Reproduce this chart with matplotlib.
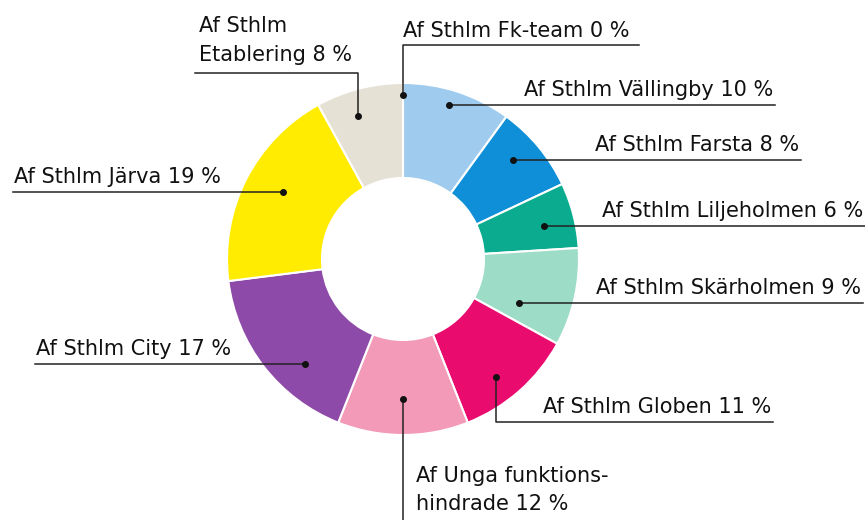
import numpy as np
from matplotlib import pyplot as plt

# data
offices = ["Af Sthlm Fk-team", "Af Sthlm Vällingby", "Af Sthlm Farsta",
           "Af Sthlm Liljeholmen", "Af Sthlm Skärholmen", "Af Sthlm Globen",
           "Af Unga funktionshindrade", "Af Sthlm City", "Af Sthlm Järva",
           "Af Sthlm Etablering"]
shares = [0, 10, 8, 6, 9, 11, 12, 17, 19, 8]
colors = ["#9ecbee", "#9ecbee", "#0f8fd8", "#0aab8f", "#9ddcc7",
          "#e90b6e", "#f49ab9", "#8e4aa8", "#ffec00", "#e5e1d5"]
label_lines = [["Af Sthlm Fk-team 0 %"], ["Af Sthlm Vällingby 10 %"],
               ["Af Sthlm Farsta 8 %"], ["Af Sthlm Liljeholmen 6 %"],
               ["Af Sthlm Skärholmen 9 %"], ["Af Sthlm Globen 11 %"],
               ["Af Unga funktions-", "hindrade 12 %"],
               ["Af Sthlm City 17 %"], ["Af Sthlm Järva 19 %"],
               ["Af Sthlm", "Etablering 8 %"]]

W, H = 865, 520
cx, cy = 403, H - 259
R, r_in = 176, 81

# layout of the callouts: angle nudge (deg), dot radius, kind, line end x / y
nudge = [0, -1.4, -2.4, 1.4, 8.2, 3.2, 0, -9.2, 2.2, -3.1]
dot_r = [164, 161, 148, 145, 124, 150, 140, 144, 137, 150]
kind = ["up", "right", "right", "right", "right", "down", "drop", "left", "left", "upleft"]
end_x = [639, 775, 801, 865, 863, 773, 404, 35, 13, 195]
elbow_y = [45, None, None, None, None, 422, 520, None, None, 73]

plt.rcParams['font.family'] = ['DejaVu Sans']
fig = plt.figure(figsize=(8.65, 5.2), dpi=100)
ax = fig.add_axes([0, 0, 1, 1])

ax.pie(shares, colors=colors, startangle=90, counterclock=False,
       center=(cx, cy), radius=R, frame=True,
       wedgeprops=dict(width=R - r_in, edgecolor='white', linewidth=1.5))
ax.set_xlim(0, W)
ax.set_ylim(0, H)
ax.axis('off')

cum = np.cumsum([0] + shares)
txt = dict(fontsize=15, color='#111111', va='baseline')
lc = '#222222'
for i, lines in enumerate(label_lines):
    a = np.radians((cum[i] + cum[i + 1]) / 2 * 3.6 + nudge[i])
    dx = cx + dot_r[i] * np.sin(a)
    dy = cy + dot_r[i] * np.cos(a)
    ax.plot(dx, dy, 'o', color='#111111', markersize=4, zorder=5)
    k = kind[i]
    if k in ("right", "left"):
        ax.plot([dx, end_x[i]], [dy, dy], color=lc, lw=1.1)
        if k == "right":
            ax.text(end_x[i] - 2, dy + 9, lines[0], ha='right', **txt)
        else:
            ax.text(end_x[i] + 1, dy + 9, lines[0], ha='left', **txt)
    elif k == "up":
        ly = H - elbow_y[i]
        ax.plot([dx, dx, end_x[i]], [dy, ly, ly], color=lc, lw=1.1)
        ax.text(dx, ly + 8, lines[0], ha='left', **txt)
    elif k == "down":
        ly = H - elbow_y[i]
        ax.plot([dx, dx, end_x[i]], [dy, ly, ly], color=lc, lw=1.1)
        ax.text(end_x[i] - 2, ly + 9, lines[0], ha='right', **txt)
    elif k == "upleft":
        ly = H - elbow_y[i]
        ax.plot([dx, dx, end_x[i]], [dy, ly, ly], color=lc, lw=1.1)
        ax.text(end_x[i] + 4, ly + 12, lines[1], ha='left', **txt)
        ax.text(end_x[i] + 4, ly + 41, lines[0], ha='left', **txt)
    else:
        ax.plot([dx, dx], [dy, 0], color=lc, lw=1.1)
        ax.text(dx + 13, H - 482, lines[0], ha='left', **txt)
        ax.text(dx + 13, H - 510, lines[1], ha='left', **txt)

fig.savefig("out.png", dpi=100)
